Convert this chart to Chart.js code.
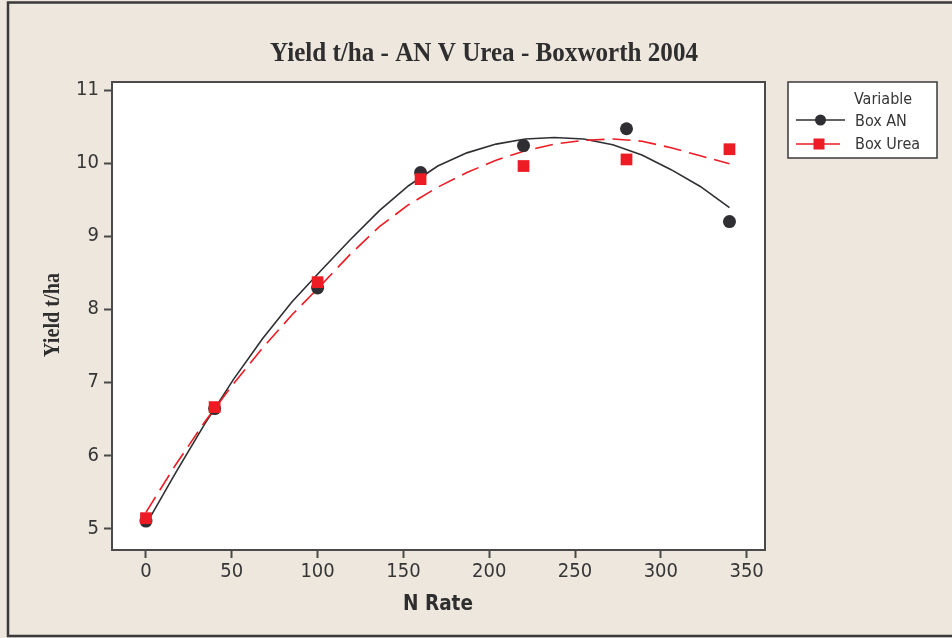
<!DOCTYPE html>
<html>
<head>
<meta charset="utf-8">
<title>Yield t/ha - AN V Urea - Boxworth 2004</title>
<script src="https://cdn.jsdelivr.net/npm/chart.js@4.4.1/dist/chart.umd.min.js"></script>
<style>
  html, body { margin: 0; padding: 0; background: #EDE7DE; }
  canvas { display: block; }
</style>
</head>
<body>
<canvas id="chart" width="952" height="638"></canvas>
<script>
// Measured nitrogen rates and yields
const nRates   = [0, 40, 100, 160, 220, 280, 340];
const boxAN    = [5.10, 6.64, 8.29, 9.87, 10.24, 10.47, 9.20];
const boxUrea  = [5.14, 6.66, 8.37, 9.78, 9.96, 10.05, 10.19];

// Fitted response curves, read at regular N rates
const fitRates = [0, 17, 34, 51, 68, 85, 102, 119, 136, 153, 170, 187, 204, 221, 238, 255, 272, 289, 306, 323, 340];
const fitAN    = [5.05, 5.75, 6.42, 7.04, 7.60, 8.10, 8.53, 8.95, 9.35, 9.69, 9.96, 10.14, 10.26, 10.33, 10.35, 10.33, 10.25, 10.11, 9.91, 9.68, 9.39];
const fitUrea  = [5.22, 5.86, 6.45, 6.98, 7.47, 7.92, 8.33, 8.75, 9.13, 9.43, 9.67, 9.87, 10.04, 10.17, 10.26, 10.31, 10.33, 10.30, 10.21, 10.10, 9.99];

// Axis ticks
const xTicks = [0, 50, 100, 150, 200, 250, 300, 350];
const yTicks = [5, 6, 7, 8, 9, 10, 11];

const seriesNames = ['Box AN', 'Box Urea'];
const legendHeading = 'Variable';
const chartTitle = 'Yield t/ha - AN V Urea - Boxworth 2004';
const xTitle = 'N Rate';
const yTitle = 'Yield t/ha';

const BG = '#EDE7DE';
const AXIS = '#4a4a4a';
const TEXT = '#363636';
const DARK = '#2f2f33';
const RED = '#ED1C24';
const TICK_FONT = '"DejaVu Sans Condensed", "DejaVu Sans", sans-serif';

const toXY = (xs, ys) => xs.map((x, i) => ({ x: x, y: ys[i] }));

// Draw text squeezed horizontally to a target width
function fitText(ctx, text, x, y, width, rotate) {
  ctx.save();
  ctx.translate(x, y);
  if (rotate) ctx.rotate(-Math.PI / 2);
  const w = ctx.measureText(text).width;
  ctx.scale(width / w, 1);
  ctx.textAlign = 'center';
  ctx.textBaseline = 'alphabetic';
  ctx.fillText(text, 0, 0);
  ctx.restore();
}

const decor = {
  id: 'decor',
  beforeDraw(chart) {
    const ctx = chart.ctx;
    const a = chart.chartArea;
    ctx.save();
    ctx.fillStyle = BG;
    ctx.fillRect(0, 0, chart.width, chart.height);
    ctx.fillStyle = '#FFFFFF';
    ctx.fillRect(a.left, a.top, a.right - a.left, a.bottom - a.top);
    ctx.restore();
  },
  afterDraw(chart) {
    const ctx = chart.ctx;
    const a = chart.chartArea;
    ctx.save();

    // outer frame
    ctx.strokeStyle = '#3a3a3a';
    ctx.lineWidth = 2.5;
    ctx.beginPath();
    ctx.moveTo(chart.width + 2, 2.5);
    ctx.lineTo(8, 2.5);
    ctx.lineTo(8, 636);
    ctx.lineTo(chart.width + 2, 636);
    ctx.stroke();

    // plot box
    ctx.strokeStyle = AXIS;
    ctx.lineWidth = 2;
    ctx.strokeRect(a.left, a.top, a.right - a.left, a.bottom - a.top);

    // titles
    ctx.fillStyle = '#2e2e2e';
    ctx.font = 'bold 28px "Liberation Serif", "Times New Roman", serif';
    fitText(ctx, chartTitle, 484, 61, 428, false);

    ctx.font = 'bold 24px "Liberation Serif", "Times New Roman", serif';
    fitText(ctx, yTitle, 59, 315, 84, true);

    ctx.font = 'bold 22px "DejaVu Sans", sans-serif';
    fitText(ctx, xTitle, 438, 610, 70, false);

    // legend
    const lx = 788, ly = 82, lw = 149, lh = 76;
    ctx.fillStyle = '#FFFFFF';
    ctx.fillRect(lx, ly, lw, lh);
    ctx.strokeStyle = '#3a3a3a';
    ctx.lineWidth = 1.5;
    ctx.strokeRect(lx, ly, lw, lh);

    ctx.fillStyle = TEXT;
    ctx.font = '16px ' + TICK_FONT;
    ctx.textAlign = 'left';
    ctx.textBaseline = 'alphabetic';
    ctx.fillText(legendHeading, 854, 104);
    ctx.fillText(seriesNames[0], 855, 126);
    ctx.fillText(seriesNames[1], 855, 149);

    // Box AN sample
    ctx.strokeStyle = DARK;
    ctx.lineWidth = 1.5;
    ctx.beginPath(); ctx.moveTo(796, 120); ctx.lineTo(845, 120); ctx.stroke();
    ctx.fillStyle = DARK;
    ctx.beginPath(); ctx.arc(820.5, 120, 5.5, 0, Math.PI * 2); ctx.fill();

    // Box Urea sample
    ctx.strokeStyle = RED;
    ctx.beginPath(); ctx.moveTo(796, 144); ctx.lineTo(840, 144); ctx.stroke();
    ctx.fillStyle = RED;
    ctx.fillRect(813.5, 138.5, 11, 11);

    ctx.restore();
  }
};

new Chart(document.getElementById('chart'), {
  type: 'scatter',
  data: {
    datasets: [
      {
        label: seriesNames[1],
        data: toXY(nRates, boxUrea),
        showLine: false,
        pointStyle: 'rect',
        pointRadius: 8.3,
        pointHoverRadius: 8.3,
        backgroundColor: RED,
        borderColor: RED,
        borderWidth: 0,
        order: 0
      },
      {
        label: seriesNames[0],
        data: toXY(nRates, boxAN),
        showLine: false,
        pointStyle: 'circle',
        pointRadius: 6.5,
        pointHoverRadius: 6.5,
        backgroundColor: DARK,
        borderColor: DARK,
        borderWidth: 0,
        order: 1
      },
      {
        label: seriesNames[1] + ' fit',
        data: toXY(fitRates, fitUrea),
        showLine: true,
        pointRadius: 0,
        borderColor: RED,
        borderWidth: 1.6,
        borderDash: [18, 8],
        tension: 0,
        fill: false,
        order: 2
      },
      {
        label: seriesNames[0] + ' fit',
        data: toXY(fitRates, fitAN),
        showLine: true,
        pointRadius: 0,
        borderColor: DARK,
        borderWidth: 1.6,
        tension: 0,
        fill: false,
        order: 3
      }
    ]
  },
  options: {
    responsive: false,
    animation: false,
    events: [],
    layout: { padding: { left: 0, top: 82, right: 187, bottom: 0 } },
    plugins: {
      legend: { display: false },
      title: { display: false },
      tooltip: { enabled: false }
    },
    scales: {
      x: {
        type: 'linear',
        min: -19.8,
        max: 360.7,
        afterBuildTicks: s => { s.ticks = xTicks.map(v => ({ value: v })); },
        afterFit: s => { s.height = 88; },
        grid: { drawOnChartArea: false, drawTicks: true, tickLength: 8, tickWidth: 2, tickColor: AXIS },
        border: { display: true, color: AXIS, width: 2 },
        ticks: {
          color: TEXT,
          font: { family: TICK_FONT, size: 20 },
          padding: 2,
          maxRotation: 0,
          autoSkip: false
        }
      },
      y: {
        type: 'linear',
        min: 4.704,
        max: 11.11,
        afterBuildTicks: s => { s.ticks = yTicks.map(v => ({ value: v })); },
        afterFit: s => { s.width = 112; },
        grid: { drawOnChartArea: false, drawTicks: true, tickLength: 8, tickWidth: 2, tickColor: AXIS },
        border: { display: true, color: AXIS, width: 2 },
        ticks: {
          color: TEXT,
          font: { family: TICK_FONT, size: 20 },
          padding: 5,
          autoSkip: false
        }
      }
    }
  },
  plugins: [decor]
});
</script>
</body>
</html>
